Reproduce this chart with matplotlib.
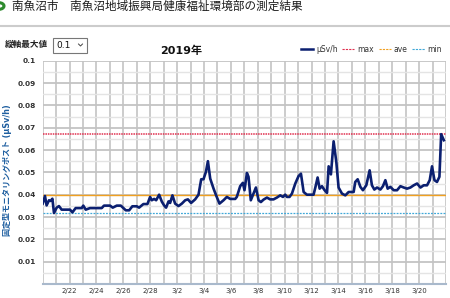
import matplotlib
matplotlib.use("Agg")
import matplotlib.pyplot as plt
import matplotlib.dates as mdates
from matplotlib.lines import Line2D
from matplotlib.patches import Circle, Rectangle
from matplotlib.ticker import MultipleLocator
import numpy as np
import pandas as pd

plt.rcParams['font.family'] = ['DejaVu Sans', 'Noto Sans CJK JP']

# days after 2019-02-20 00:00 and measured dose rate (uSv/h)
days = [0.0, 0.17, 0.29, 0.47, 0.59, 0.72, 0.84, 1.04, 1.21, 1.41, 2.03, 2.21, 2.45, 2.9,
        3.02, 3.2, 3.52, 4.39, 4.56, 5.01, 5.21, 5.51, 5.81, 6.0, 6.18, 6.43, 6.67, 7.0,
        7.17, 7.49, 7.79, 7.99, 8.11, 8.29, 8.44, 8.66, 8.86, 9.03, 9.18, 9.36, 9.48, 9.65,
        9.85, 10.1, 10.35, 10.6, 10.8, 11.04, 11.34, 11.59, 11.79, 11.96, 12.14, 12.29, 12.46,
        12.71, 12.9, 13.15, 13.45, 13.7, 13.95, 14.32, 14.44,
        14.69, 14.89, 15.01, 15.19, 15.31, 15.48, 15.68, 15.86, 16.06, 16.23, 16.43, 16.68,
        16.92, 17.17, 17.42, 17.67, 17.87, 18.04, 18.17, 18.36, 18.54, 18.79, 19.03, 19.21,
        19.41, 19.65, 19.9, 20.15, 20.28, 20.45, 20.6, 20.77, 20.97, 21.15, 21.27, 21.44,
        21.64, 21.84, 22.01, 22.26, 22.51, 22.76, 23.13, 23.25, 23.43, 23.63, 23.82, 24.07,
        24.32, 24.49, 24.67, 24.87, 25.12, 25.31, 25.49, 25.66, 25.86, 26.11, 26.36, 26.61,
        26.86, 27.1, 27.35, 27.6, 27.85, 28.1, 28.34, 28.59, 28.79, 28.96, 29.14, 29.33,
        29.51, 29.64, 29.84]
usv = [0.0360, 0.0394, 0.0352, 0.0375, 0.0372, 0.0382, 0.0318, 0.0342, 0.0349, 0.0333,
       0.0333, 0.0321, 0.0340, 0.0340, 0.0351, 0.0333, 0.0340, 0.0340, 0.0351, 0.0351,
       0.0342, 0.0351, 0.0351, 0.0340, 0.0330, 0.0330, 0.0348, 0.0348, 0.0342, 0.0358,
       0.0358, 0.0390, 0.0375, 0.0381, 0.0375, 0.0400, 0.0369, 0.0352, 0.0342, 0.0370,
       0.0363, 0.0397, 0.0360, 0.0349, 0.0360, 0.0375, 0.0379, 0.0363, 0.0379, 0.0400,
       0.0469, 0.0469, 0.0502, 0.0550, 0.0472, 0.0427, 0.0397, 0.0360, 0.0375, 0.0390,
       0.0381, 0.0381, 0.0390,
       0.0438, 0.0453, 0.0420, 0.0497, 0.0480, 0.0375, 0.0405, 0.0432, 0.0375, 0.0367,
       0.0378, 0.0387, 0.0379, 0.0379, 0.0387, 0.0397, 0.0390, 0.0400, 0.0390, 0.0390,
       0.0405, 0.0450, 0.0483, 0.0494, 0.0412, 0.0400, 0.0400, 0.0400, 0.0432, 0.0477,
       0.0427, 0.0438, 0.0420, 0.0408, 0.0527, 0.0491, 0.0639, 0.0547, 0.0432, 0.0405,
       0.0397, 0.0412, 0.0412, 0.0457, 0.0469, 0.0435, 0.0420, 0.0442, 0.0509, 0.0442,
       0.0423, 0.0432, 0.0423, 0.0438, 0.0465, 0.0427, 0.0435, 0.0420, 0.0420, 0.0438,
       0.0432, 0.0427, 0.0432, 0.0442, 0.0450, 0.0432, 0.0442, 0.0442, 0.0465, 0.0527,
       0.0465, 0.0457, 0.0480, 0.0671, 0.0644]
v_max = 0.0671
v_ave = 0.0400
v_min = 0.0320

start = '2019-02-20'
end = '2019-03-22'
label_dates = ['2019-02-22', '2019-02-24', '2019-02-26', '2019-02-28', '2019-03-02',
               '2019-03-04', '2019-03-06', '2019-03-08', '2019-03-10', '2019-03-12',
               '2019-03-14', '2019-03-16', '2019-03-18', '2019-03-20']
y_ticks = [0.01, 0.02, 0.03, 0.04, 0.05, 0.06, 0.07, 0.08, 0.09, 0.1]

times = pd.Timestamp(start) + pd.to_timedelta(days, unit='D')

fig = plt.figure(figsize=(4.5, 2.98), dpi=100)
W, H = 450.0, 298.0

# page header
fig.add_artist(Circle((-1 / W, 1 - 6 / H), 5 / W, transform=fig.transFigure,
                      facecolor='white', edgecolor='#2e8b2e', linewidth=2.2))
fig.text(12 / W, 1 - 6.5 / H, '南魚沼市\u3000南魚沼地域振興局健康福祉環境部の測定結果',
         fontsize=8.35, color='#1a1a1a', va='center', ha='left')
fig.add_artist(Line2D([0, 1], [1 - 25.5 / H] * 2, transform=fig.transFigure,
                      color='#cccccc', linewidth=1.5))

# selector
fig.text(5 / W, 1 - 44.5 / H, '縦軸最大値', fontsize=6.2, fontweight='bold',
         color='#222222', va='center', ha='left')
fig.add_artist(Rectangle((52.5 / W, 1 - 52.5 / H), 34.5 / W, 15 / H, transform=fig.transFigure,
                         facecolor='white', edgecolor='#777777', linewidth=0.8))
fig.text(56 / W, 1 - 45 / H, '0.1', fontsize=6.5, color='#111111', va='center', ha='left')
fig.add_artist(Line2D([78.5 / W, 80.5 / W, 82.5 / W], [1 - 44 / H, 1 - 46 / H, 1 - 44 / H],
                      transform=fig.transFigure, color='#444444', linewidth=0.7))

ax = fig.add_axes([42.7 / W, 1 - 284 / H, (446 - 42.7) / W, (284 - 60.7) / H])

ax.plot(times, usv, color='#0b1f70', linewidth=1.9, zorder=5)
ax.axhline(v_max, color='#e0304f', linewidth=1.1, linestyle=(0, (1, 0.6)), zorder=4)
ax.axhline(v_ave, color='#f0a020', linewidth=1.0, zorder=4)
ax.axhline(v_min, color='#40a8d8', linewidth=0.9, linestyle=(0, (1.5, 1)), zorder=4)

ax.set_xlim(pd.Timestamp(start), pd.Timestamp(end))
ax.set_ylim(0, 0.1)

ax.set_xticks([pd.Timestamp(d) for d in label_dates])
ax.set_xticklabels([f'{pd.Timestamp(d).month}/{pd.Timestamp(d).day}' for d in label_dates])
ax.xaxis.set_minor_locator(mdates.DayLocator())
ax.set_yticks(y_ticks)
ax.set_yticklabels([f'{v:g}' for v in y_ticks])
ax.yaxis.set_minor_locator(MultipleLocator(0.005))

ax.grid(which='both', axis='x', color='#c8c8c8', linewidth=1.3)
ax.grid(which='major', axis='y', color='#c4c4c4', linewidth=1.3)
ax.grid(which='minor', axis='y', color='#e4e4e4', linewidth=1.0)
ax.set_axisbelow(True)

ax.tick_params(which='both', length=0)
ax.tick_params(axis='x', labelsize=5, labelcolor='#333333', pad=3)
ax.tick_params(axis='y', labelsize=5.3, labelcolor='#333333', pad=5)
for lab in ax.get_yticklabels():
    lab.set_fontweight('bold')

for s in ['top', 'right', 'left']:
    ax.spines[s].set_visible(False)
ax.spines['bottom'].set_color('#a9b9cc')
ax.spines['bottom'].set_linewidth(1.5)

fig.text(181 / W, 1 - 50.5 / H, '2019年', fontsize=8, fontweight='bold',
         color='#111111', ha='center', va='center')
fig.text(7.5 / W, 1 - 170 / H, '固定型モニタリングポスト (μSv/h)', fontsize=5.8,
         fontweight='bold', color='#1f5fa0', rotation=90, ha='center', va='center')

handles = [Line2D([], [], color='#0b1f70', linewidth=1.8),
           Line2D([], [], color='#e0304f', linewidth=0.8, linestyle=(0, (2, 1))),
           Line2D([], [], color='#f0a020', linewidth=0.8, linestyle=(0, (2, 1))),
           Line2D([], [], color='#40a8d8', linewidth=0.8, linestyle=(0, (2, 1)))]
fig.legend(handles, ['μSv/h', 'max', 'ave', 'min'], ncol=4, frameon=False, fontsize=5.5,
           loc='center right', bbox_to_anchor=(446 / W, 1 - 49.5 / H),
           handlelength=1.6, handletextpad=0.4, columnspacing=0.6, borderpad=0,
           labelcolor='#333333')

fig.savefig('out.png', dpi=100)
